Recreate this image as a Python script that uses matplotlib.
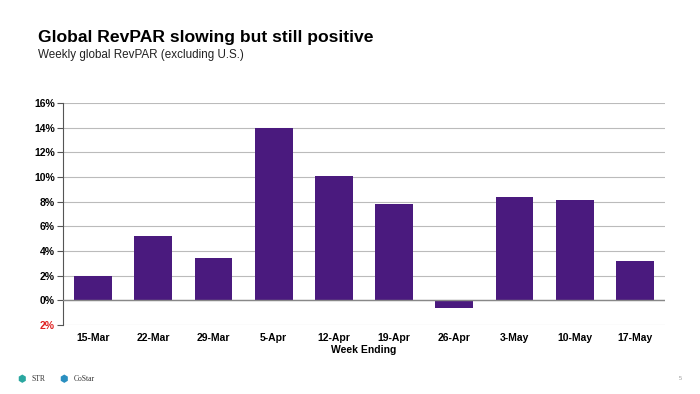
import matplotlib
matplotlib.use("Agg")
import matplotlib.pyplot as plt
from matplotlib.ticker import FixedLocator

weeks = ["15-Mar", "22-Mar", "29-Mar", "5-Apr", "12-Apr", "19-Apr", "26-Apr", "3-May", "10-May", "17-May"]
revpar = [2.0, 5.2, 3.4, 14.0, 10.1, 7.8, -0.6, 8.4, 8.1, 3.2]
yticks = [-2, 0, 2, 4, 6, 8, 10, 12, 14, 16]
ytick_labels = ["2%", "0%", "2%", "4%", "6%", "8%", "10%", "12%", "14%", "16%"]

plt.rcParams['font.family'] = ['Liberation Sans', 'DejaVu Sans']
fig = plt.figure(figsize=(7, 3.94), dpi=100)
ax = fig.add_axes([0.09, 0.175, 0.86, 0.5636])

x = list(range(len(weeks)))
ax.bar(x, revpar, width=0.63, color="#4A1A7E", zorder=3)
ax.set_xlim(-0.5, len(weeks) - 0.5)
ax.set_ylim(-2, 16)
ax.yaxis.set_major_locator(FixedLocator(yticks))
ax.set_yticklabels(ytick_labels, fontsize=7.5, fontweight="bold")
ax.get_yticklabels()[0].set_color("#E02020")
ax.set_xticks(x)
ax.set_xticklabels(weeks, fontsize=7.5, fontweight="bold")
ax.tick_params(axis="x", length=0, pad=6)
ax.tick_params(axis="y", length=4, width=0.8, color="#555555", pad=2)
ax.grid(axis="y", color="#BBBBBB", linewidth=0.8, zorder=0)
ax.axhline(0, color="#888888", linewidth=1.0, zorder=4)
for s in ["top", "right", "bottom"]:
    ax.spines[s].set_visible(False)
ax.spines["left"].set_color("#555555")
ax.spines["left"].set_linewidth(0.8)
ax.set_xlabel("Week Ending", fontsize=7.5, fontweight="bold", labelpad=1)

fig.text(0.054, 0.905, "Global RevPAR slowing but still positive", fontsize=12.6, fontweight="bold", va="center")
fig.text(0.054, 0.86, "Weekly global RevPAR (excluding U.S.)", fontsize=8.4, va="center", color="#222222")

fig.text(0.025, 0.038, "\u2b22", fontsize=7, color="#2AA7A0", va="center")
fig.text(0.045, 0.038, "STR", fontsize=5.5, color="#333333", va="center", family="Liberation Serif")
fig.text(0.085, 0.038, "\u2b22", fontsize=7, color="#2A8FC0", va="center")
fig.text(0.105, 0.038, "CoStar", fontsize=5.5, color="#333333", va="center", family="Liberation Serif")
fig.text(0.97, 0.04, "5", fontsize=4, color="#999999", va="center")

fig.savefig("out.png", dpi=100)
